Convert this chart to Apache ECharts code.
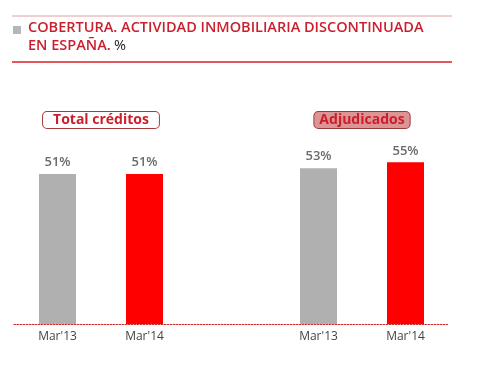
<!DOCTYPE html>
<html><head><meta charset="utf-8">
<script src="https://cdn.jsdelivr.net/npm/echarts@6/dist/echarts.min.js"></script>
<style>html,body{margin:0;padding:0;background:#fff}#c{width:482px;height:370px}</style>
</head><body><div id="c"></div>
<script>
const categories = ["Mar'13", "Mar'14", "", "Mar'13", "Mar'14"];
const values = [51, 51, null, 53, 55];
const barColors = ['#b0b0b0', '#ff0000', '#ffffff', '#b0b0b0', '#ff0000'];
const groupNames = ['Total créditos', 'Adjudicados'];
const titleLine1 = 'COBERTURA. ACTIVIDAD INMOBILIARIA DISCONTINUADA';
const titleLine2 = 'EN ESPAÑA.';

const FONT = '"Open Sans", sans-serif';
const chart = echarts.init(document.getElementById('c'), null, {renderer: 'canvas'});
const option = {
  animation: false,
  grid: {left: 14, right: 33, top: 30, bottom: 46},
  xAxis: {
    type: 'category', data: categories,
    axisLine: {show: true, lineStyle: {color: '#cc2b2b', type: [1.5, 1.5], width: 1.2}},
    axisTick: {show: false},
    axisLabel: {color: '#444', fontFamily: FONT, fontSize: 12, margin: 7}
  },
  yAxis: {type: 'value', min: 0, max: 100, show: false, splitLine: {show: false}},
  series: [{
    type: 'bar', barWidth: 37,
    data: values.map((v, i) => ({value: v, itemStyle: {color: barColors[i]}})),
    label: {show: true, position: 'top', distance: 5, color: '#6a6a6a', fontFamily: FONT, fontSize: 13, fontWeight: 600,
      formatter: p => p.value == null ? '' : p.value + '%'}
  }],
  graphic: []
};
chart.setOption(option);

const x1 = (chart.convertToPixel({xAxisIndex: 0}, 0) + chart.convertToPixel({xAxisIndex: 0}, 1)) / 2;
const x2 = (chart.convertToPixel({xAxisIndex: 0}, 3) + chart.convertToPixel({xAxisIndex: 0}, 4)) / 2;

chart.setOption({graphic: [
  {type: 'line', shape: {x1: 12, y1: 16, x2: 452, y2: 16}, style: {stroke: '#dba0a0', lineWidth: 1}},
  {type: 'line', shape: {x1: 12, y1: 62, x2: 452, y2: 62}, style: {stroke: '#d8202a', lineWidth: 1.5}},
  {type: 'rect', shape: {x: 13, y: 26, width: 8, height: 8}, style: {fill: '#b4b6bb'}},
  {type: 'text', left: 28, top: 20, style: {
    text: '{r|' + titleLine1 + '}\n{r|' + titleLine2 + '} {k|%}',
    rich: {
      r: {fill: '#cc1f2d', fontFamily: FONT, fontSize: 14.5, fontWeight: 600, lineHeight: 18},
      k: {fill: '#222', fontFamily: FONT, fontSize: 14.5, fontWeight: 400, lineHeight: 18}
    }}},
  {type: 'text', x: x1, y: 120, style: {
    text: groupNames[0], align: 'center', verticalAlign: 'middle',
    fill: '#cc1f2d', font: 'bold 14px ' + FONT,
    backgroundColor: '#fff', borderColor: '#a83a3a', borderWidth: 1, borderRadius: 4,
    padding: [1, 10, 1, 10]}},
  {type: 'text', x: x2, y: 120, style: {
    text: groupNames[1], align: 'center', verticalAlign: 'middle',
    fill: '#cc1f2d', font: 'bold 14px ' + FONT,
    backgroundColor: '#dd9494', borderColor: '#9a3a3a', borderWidth: 1, borderRadius: 4,
    padding: [1, 5, 1, 5]}}
]});
</script></body></html>
